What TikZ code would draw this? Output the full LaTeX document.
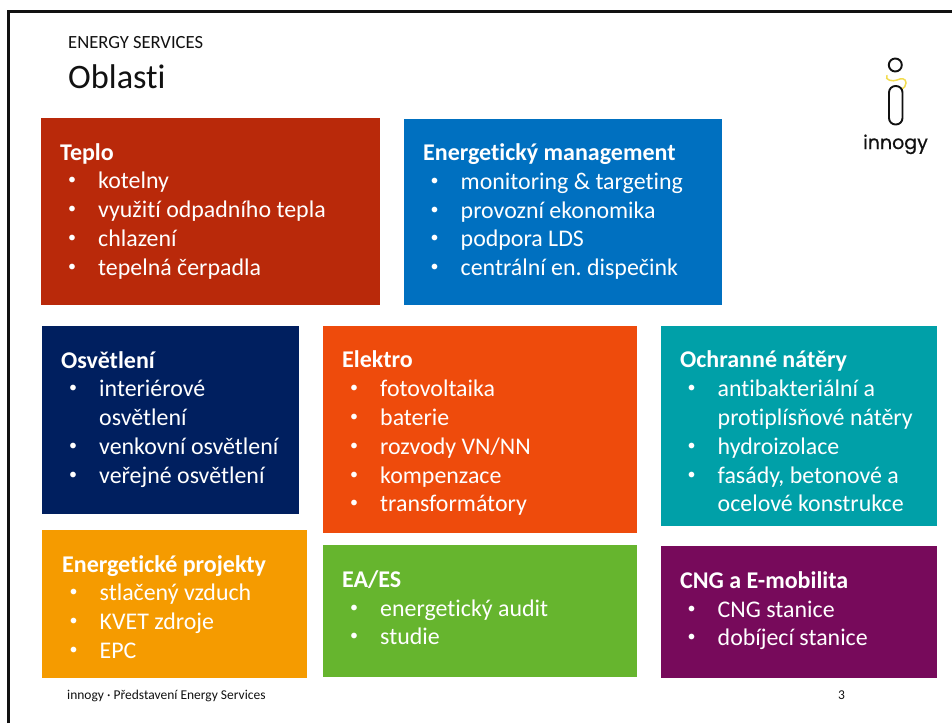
\documentclass[tikz,border=0pt]{standalone}
\usepackage{fontspec}
\setmainfont[Ligatures=NoCommon]{Carlito}
\newfontfamily\logofont[FakeBold=0.6]{Poppins}
\definecolor{cTeplo}{HTML}{B9290A}
\definecolor{cMgmt}{HTML}{0070C0}
\definecolor{cOsv}{HTML}{001F5F}
\definecolor{cElek}{HTML}{EE4B0C}
\definecolor{cNat}{HTML}{00A0A8}
\definecolor{cProj}{HTML}{F59B00}
\definecolor{cEA}{HTML}{66B52E}
\definecolor{cCNG}{HTML}{770A5B}
\definecolor{cInk}{HTML}{111111}
\definecolor{cSwirl}{HTML}{F2DC50}
\tikzset{
  x=1pt,y=-1pt,
  panel/.style={rectangle,inner sep=0pt,outer sep=0pt,anchor=north west,fill=#1},
  head/.style={anchor=base west,inner sep=0pt,yshift=-0.7pt,text=white,font=\fontsize{24}{26}\selectfont\bfseries},
  item/.style={anchor=base west,inner sep=0pt,yshift=-0.7pt,text=white,font=\fontsize{23.9}{26}\selectfont},
  dot/.style={anchor=base west,inner sep=0pt,text=white,font=\fontsize{16}{18}\selectfont},
  plain/.style={anchor=base west,inner sep=0pt,text=cInk},
  logoline/.style={draw=cInk,line width=1.9pt,fill=none}
}
% \pbox{name}{x0}{y0}{w}{h}{colour}
\newcommand{\pbox}[6]{\node[panel=#6,minimum width=#4pt,minimum height=#5pt] (#1) at (#2,#3) {};}
% \bul{name}{x of bullet}{baseline}{text}
\newcommand{\bul}[4]{\node[dot] (#1d) at (#2+7.5,#3-3.5) {•}; \node[item] (#1) at (#2+37.5,#3) {#4};}
\newcommand{\cont}[4]{\node[item] (#1) at (#2+37.5,#3) {#4};}
\begin{document}
\frenchspacing
\begin{tikzpicture}
\useasboundingbox (0,0) rectangle (952,723);
\fill[white] (0,0) rectangle (952,723);
\draw[cInk,line width=2.2pt] (8.5,723) -- (8.5,11.5) -- (952,11.5);

\node[plain,font=\fontsize{18.6}{20}\selectfont] (sup) at (68,48) {ENERGY SERVICES};
\node[plain,font=\fontsize{34.3}{38}\selectfont] (title) at (68,88) {Oblasti};

\pbox{b1}{41}{118}{339}{187}{cTeplo}
\pbox{b2}{404}{119}{318}{186}{cMgmt}
\pbox{b3}{42}{326}{257}{188}{cOsv}
\pbox{b4}{323}{326}{314}{207}{cElek}
\pbox{b5}{661}{326}{276}{200}{cNat}
\pbox{b6}{42}{530}{265}{148}{cProj}
\pbox{b7}{323}{545}{314}{132}{cEA}
\pbox{b8}{661}{546}{276}{132}{cCNG}

\node[head] (h1) at (60,160) {Teplo};
\bul{a1}{60.5}{188}{kotelny}
\bul{a2}{60.5}{217}{využití odpadního tepla}
\bul{a3}{60.5}{246}{chlazení}
\bul{a4}{60.5}{275}{tepelná čerpadla}

\node[head] (h2) at (423,160) {Energetický management};
\bul{c1}{423}{189}{monitoring \& targeting}
\bul{c2}{423}{218}{provozní ekonomika}
\bul{c3}{423}{246}{podpora LDS}
\bul{c4}{423}{275}{centrální en. dispečink}

\node[head] (h3) at (61,368) {Osvětlení};
\bul{d1}{61.5}{396}{interiérové}
\cont{d2}{61.5}{425}{osvětlení}
\bul{d3}{61.5}{454}{venkovní osvětlení}
\bul{d4}{61.5}{483}{veřejné osvětlení}

\node[head] (h4) at (342,367) {Elektro};
\bul{e1}{342.5}{396}{fotovoltaika}
\bul{e2}{342.5}{425}{baterie}
\bul{e3}{342.5}{454}{rozvody VN/NN}
\bul{e4}{342.5}{483}{kompenzace}
\bul{e5}{342.5}{511}{transformátory}

\node[head] (h5) at (680,367) {Ochranné nátěry};
\bul{f1}{680}{396}{antibakteriální a}
\cont{f2}{680}{425}{protiplísňové nátěry}
\bul{f3}{680}{454}{hydroizolace}
\bul{f4}{680}{483}{fasády, betonové a}
\cont{f5}{680}{511}{ocelové konstrukce}

\node[head] (h6) at (62,572) {Energetické projekty};
\bul{g1}{62}{600}{stlačený vzduch}
\bul{g2}{62}{629}{KVET zdroje}
\bul{g3}{62}{658}{EPC}

\node[head] (h7) at (342,587) {EA/ES};
\bul{i1}{342.5}{616}{energetický audit}
\bul{i2}{342.5}{644}{studie}

\node[head] (h8) at (680,588) {CNG a E-mobilita};
\bul{j1}{680}{617}{CNG stanice}
\bul{j2}{680}{645}{dobíjecí stanice}

\node[plain,font=\fontsize{13.5}{15}\selectfont] (foot) at (67,699) {innogy · Představení Energy Services};
\node[plain,font=\fontsize{13.5}{15}\selectfont] (page) at (838,699) {3};

% logo
\draw[cSwirl,line width=1.5pt,line cap=round] (887,75.5) .. controls (884,80) and (893,82) .. (897,80) .. controls (901,78) and (906,78) .. (906,83) .. controls (906,86) and (904,88) .. (902,89);
\draw[logoline] (895.3,65) circle (6.5);
\draw[logoline,rounded corners=6.5pt] (889,86) rectangle (902.5,124.5);
\node[anchor=base,inner sep=0pt,text=cInk,font=\logofont\fontsize{19}{21}\selectfont] (logo) at (895.5,149) {innogy};
\end{tikzpicture}
\end{document}
